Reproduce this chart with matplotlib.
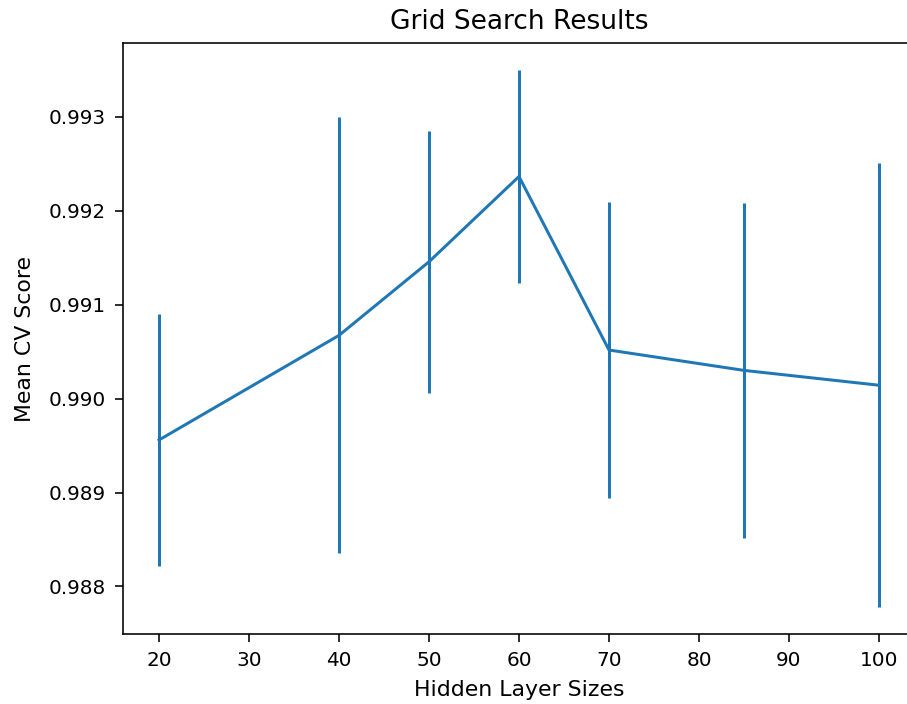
import matplotlib
matplotlib.use("Agg")
import matplotlib.pyplot as plt

# Grid search results
hidden_sizes = [20, 40, 50, 60, 70, 85, 100]
mean_scores = [0.98956, 0.990674, 0.991458, 0.992366, 0.990518, 0.990301, 0.990143]
std_scores = [0.001344, 0.0023205, 0.001396, 0.0011325, 0.001581, 0.001788, 0.0023665]

fig = plt.figure(figsize=(907 / 144, 704 / 144), dpi=144)
ax = fig.add_axes([123 / 907, (704 - 634.3) / 704, 792 / 907, 591 / 704])

ax.errorbar(hidden_sizes, mean_scores, yerr=std_scores)
ax.tick_params(length=4, pad=4.6, labelsize=10)
ax.set_xlabel("Hidden Layer Sizes", fontsize=11, labelpad=5)
ax.set_ylabel("Mean CV Score", fontsize=11, labelpad=7)
ax.set_title("Grid Search Results", fontsize=13.2, pad=7)

fig.savefig("out.png", dpi=144)
